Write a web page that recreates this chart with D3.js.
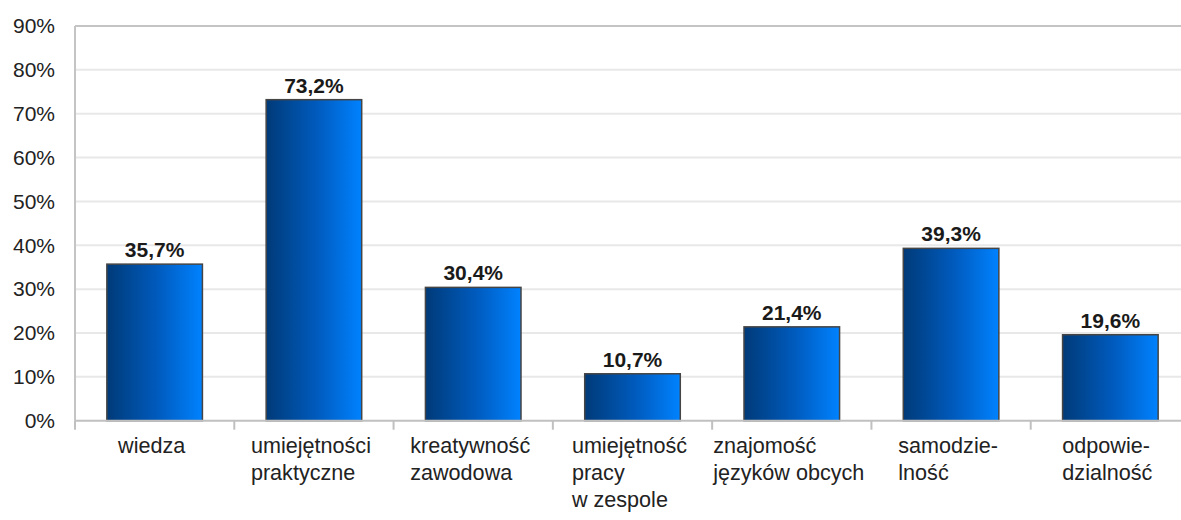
<!DOCTYPE html>
<html>
<head>
<meta charset="utf-8">
<script src="https://cdn.jsdelivr.net/npm/d3@7"></script>
<style>
  html, body { margin: 0; padding: 0; background: #fff; }
  svg { display: block; font-family: "Liberation Sans", Arial, sans-serif; }
</style>
</head>
<body>
<svg id="chart" width="1181" height="520"></svg>
<script>
// Categories (each entry is a list of label lines) and their shares in percent
const categories = [
  ["wiedza"],
  ["umiejętności", "praktyczne"],
  ["kreatywność", "zawodowa"],
  ["umiejętność", "pracy", "w zespole"],
  ["znajomość", "języków obcych"],
  ["samodzie-", "lność"],
  ["odpowie-", "dzialność"]
];
const values = [35.7, 73.2, 30.4, 10.7, 21.4, 39.3, 19.6];
const yTicks = [0, 10, 20, 30, 40, 50, 60, 70, 80, 90];

const svg = d3.select("#chart");
const plotLeft = 75, plotRight = 1190, plotTop = 26, plotBottom = 420.7;

const keys = categories.map((c, i) => i);
const x = d3.scaleBand().domain(keys).range([plotLeft, plotRight]).paddingInner(0.4).paddingOuter(0.2);
const y = d3.scaleLinear().domain([0, 90]).range([plotBottom, plotTop]);

// Horizontal bar gradient: dark navy on the left to bright blue on the right
const defs = svg.append("defs");
const grad = defs.append("linearGradient").attr("id", "barGrad")
  .attr("x1", "0%").attr("x2", "100%").attr("y1", "0%").attr("y2", "0%");
grad.append("stop").attr("offset", "0%").attr("stop-color", "#003a78");
grad.append("stop").attr("offset", "55%").attr("stop-color", "#005cc0");
grad.append("stop").attr("offset", "100%").attr("stop-color", "#0082ff");

// Gridlines
svg.append("g").selectAll("line").data(yTicks.filter(t => t > 0 && t < 90)).join("line")
  .attr("x1", plotLeft).attr("x2", plotRight)
  .attr("y1", d => y(d)).attr("y2", d => y(d))
  .attr("stroke", "#e8e8e8").attr("stroke-width", 2);

// Plot frame: top and left edges
svg.append("line").attr("x1", plotLeft).attr("x2", plotRight).attr("y1", y(90)).attr("y2", y(90))
  .attr("stroke", "#c4c4c4").attr("stroke-width", 2);
svg.append("line").attr("x1", plotLeft).attr("x2", plotLeft).attr("y1", y(90)).attr("y2", plotBottom)
  .attr("stroke", "#c4c4c4").attr("stroke-width", 2);

// Y axis labels
const yAxis = d3.axisLeft(y).tickValues(yTicks).tickSize(0).tickPadding(20)
  .tickFormat(d => d + "%");
const gy = svg.append("g").attr("transform", `translate(${plotLeft},0)`).call(yAxis);
gy.select(".domain").remove();
gy.selectAll("text").attr("font-size", 21).attr("fill", "#222")
  .attr("font-family", "'Liberation Sans', Arial, sans-serif");

// Bars
svg.append("g").selectAll("rect").data(values).join("rect")
  .attr("x", (d, i) => x(i))
  .attr("y", d => y(d))
  .attr("width", x.bandwidth())
  .attr("height", d => plotBottom - y(d))
  .attr("fill", "url(#barGrad)")
  .attr("stroke", "#454545").attr("stroke-width", 1.5);

// Baseline and category boundary tick marks
svg.append("line").attr("x1", plotLeft).attr("x2", plotRight).attr("y1", plotBottom).attr("y2", plotBottom)
  .attr("stroke", "#c0c0c0").attr("stroke-width", 2);
const step = x.step();
const boundaries = d3.range(keys.length + 1).map(i => plotLeft + i * step);
svg.append("g").selectAll("line").data(boundaries).join("line")
  .attr("x1", d => d).attr("x2", d => d)
  .attr("y1", plotBottom).attr("y2", plotBottom + 9)
  .attr("stroke", "#c0c0c0").attr("stroke-width", 2);

// Value labels
svg.append("g").selectAll("text").data(values).join("text")
  .attr("x", (d, i) => x(i) + x.bandwidth() / 2)
  .attr("y", d => y(d) - 7)
  .attr("text-anchor", "middle")
  .attr("font-size", 21).attr("font-weight", "bold").attr("fill", "#1a1a1a")
  .text(d => d.toFixed(1).replace(".", ",") + "%");

// Category labels: left-aligned line block centred under each category
const lineH = 27;
categories.forEach((lines, i) => {
  const g = svg.append("g");
  const texts = lines.map((s, k) => g.append("text")
    .attr("y", 453 + k * lineH)
    .attr("font-size", 21.6).attr("fill", "#222")
    .text(s));
  const w = d3.max(texts, t => t.node().getComputedTextLength());
  const cx = x(i) + x.bandwidth() / 2 - 3;
  texts.forEach(t => t.attr("x", cx - w / 2));
});
</script>
</body>
</html>
